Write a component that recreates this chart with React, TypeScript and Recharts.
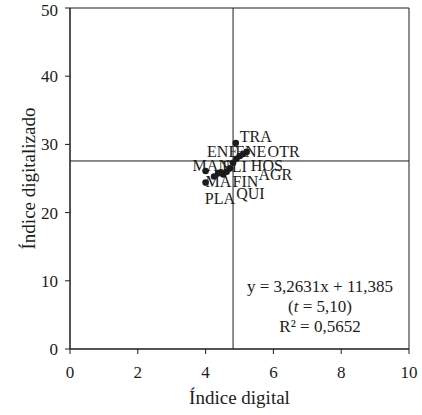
import {
  ScatterChart,
  Scatter,
  XAxis,
  YAxis,
  ReferenceLine,
  ReferenceArea,
  Label,
  Customized,
} from 'recharts'

const sectors = ['TRA', 'OTR', 'ENE', 'HOS', 'AGR', 'ENE', 'ELI', 'FIN', 'QUI', 'PLA', '', '', 'MAN', 'MA']
const digital = [4.89, 5.21, 5.11, 5.01, 4.91, 4.81, 4.72, 4.62, 4.52, 4.45, 4.37, 4.25, 4.0, 4.0]
const digitalizado = [30.2, 28.9, 28.6, 28.3, 27.9, 27.3, 26.5, 26.0, 25.6, 25.9, 25.8, 25.3, 26.1, 24.4]

const xTicks = [0, 2, 4, 6, 8, 10]
const yTicks = [0, 10, 20, 30, 40, 50]

const meanDigital = 4.81
const meanDigitalizado = 27.57

const points = sectors.map((name, i) => ({ name, x: digital[i], y: digitalizado[i], i }))

const font = '"Liberation Serif", "Times New Roman", serif'
const ink = '#1c1c1c'

// hand placed label nudges (px from the dot), the labels overlap like in the original
const nudge: [number, number][] = [
  [4, -6],
  [21, 0],
  [-8, -2],
  [11, 10],
  [22, 16],
  [-26, -11],
  [-8, -2],
  [6, 10],
  [13, 19],
  [-16, 26],
  [0, 0],
  [0, 0],
  [-13, -5],
  [0, -1],
]

function Dot(props: any) {
  const { cx, cy } = props
  return <circle cx={cx} cy={cy} r={3.3} fill={ink} />
}

function Tag(props: any) {
  const { cx, cy, payload } = props
  const [dx, dy] = nudge[payload.i]
  if (!payload.name) return <g />
  return (
    <text x={cx + dx} y={cy + dy + 5.3} fontSize={16} fontFamily={font} fill={ink}>
      {payload.name}
    </text>
  )
}

function Equation() {
  return (
    <g fontFamily={font} fontSize={17} fill={ink} textAnchor='middle'>
      <text x={320} y={291.5}>y = 3,2631x + 11,385</text>
      <text x={320} y={311.5}>
        (<tspan fontStyle='italic'>t</tspan> = 5,10)
      </text>
      <text x={320} y={331.5}>R² = 0,5652</text>
    </g>
  )
}

export default function App() {
  const tick = { fill: ink, fontSize: 17, fontFamily: font }
  return (
    <div style={{ position: 'absolute', left: 0, top: 0, background: '#fff' }}>
      <ScatterChart width={422} height={415} margin={{ top: 8, right: 13, bottom: 0, left: 0 }}>
        <XAxis
          type='number'
          dataKey='x'
          domain={[0, 10]}
          ticks={xTicks}
          height={66}
          tickSize={5}
          tickMargin={12}
          stroke={ink}
          tick={tick}
        >
          <Label
            value='Índice digital'
            position='insideBottom'
            offset={11}
            fill={ink}
            fontSize={19}
            fontFamily={font}
          />
        </XAxis>
        <YAxis
          type='number'
          dataKey='y'
          domain={[0, 50]}
          ticks={yTicks}
          width={70}
          tickSize={5}
          tickMargin={7}
          stroke={ink}
          tick={tick}
        >
          <Label
            content={({ viewBox }: any) => (
              <text
                x={35}
                y={viewBox.y + viewBox.height / 2}
                transform={`rotate(-90 35 ${viewBox.y + viewBox.height / 2})`}
                textAnchor='middle'
                fontSize={19}
                fontFamily={font}
                fill={ink}
              >
                Índice digitalizado
              </text>
            )}
          />
        </YAxis>
        <ReferenceArea x1={0} x2={10} y1={0} y2={50} fill='none' stroke={ink} strokeWidth={1} />
        <ReferenceLine x={meanDigital} stroke={ink} strokeWidth={1} />
        <ReferenceLine y={meanDigitalizado} stroke={ink} strokeWidth={1} />
        <Scatter data={points} shape={Tag} isAnimationActive={false} />
        <Scatter data={points} shape={Dot} isAnimationActive={false} />
        <Customized component={Equation} />
      </ScatterChart>
    </div>
  )
}
